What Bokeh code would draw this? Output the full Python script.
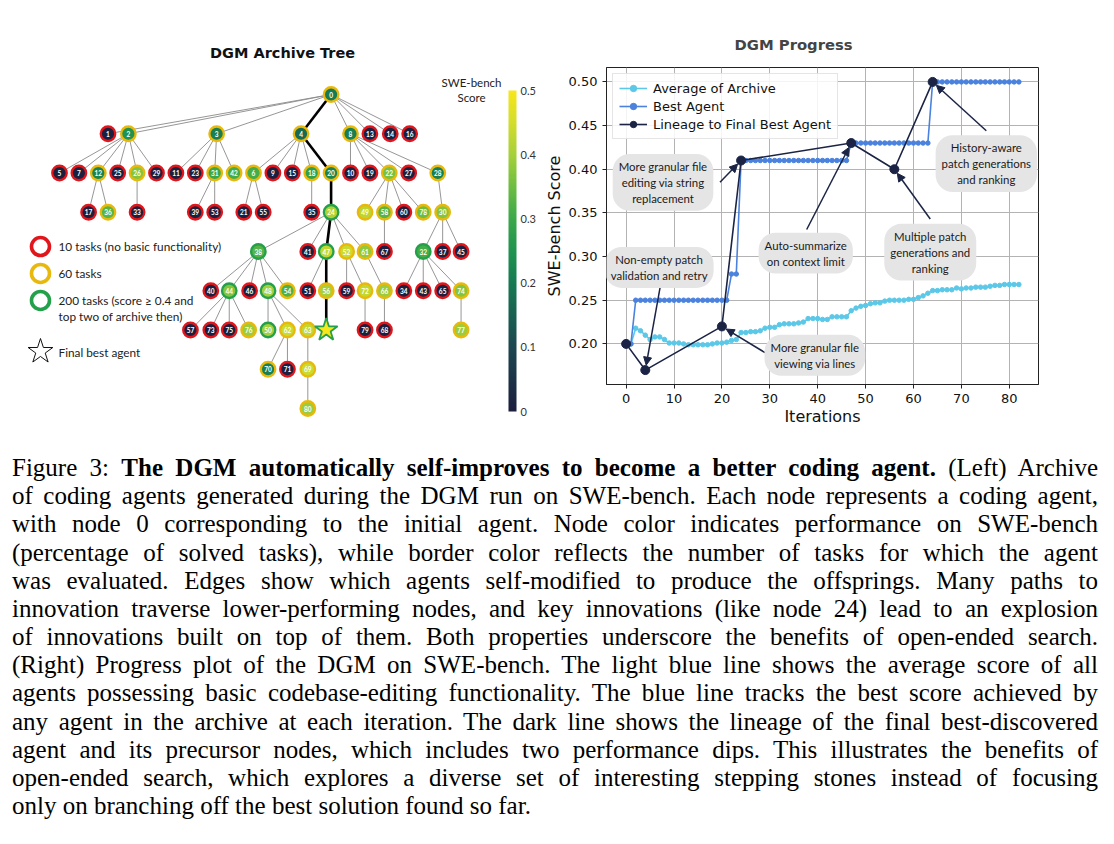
import numpy as np
from bokeh.plotting import figure
from bokeh.models import (Range1d, ColumnDataSource, LinearColorMapper, ColorBar, FixedTicker,
                          Label, Arrow, NormalHead, Legend, LegendItem, Div, PrintfTickFormatter)
from bokeh.layouts import row, column
from bokeh.transform import transform, factor_cmap
from bokeh.core.properties import value
from bokeh.embed import file_html
from bokeh.resources import INLINE

# ---------------- archive tree data ----------------
node_id = list(range(81))
node_parent = [-1, 0, 0, 0, 0, 2, 4, 2, 0, 4,
               8, 3, 2, 0, 0, 4, 0, 12, 4, 8,
               4, 6, 8, 3, 20, 2, 2, 8, 8, 2,
               28, 3, 30, 26, 32, 18, 12, 30, 24, 31,
               38, 24, 3, 32, 38, 30, 38, 24, 38, 22,
               48, 47, 24, 31, 38, 6, 47, 44, 22, 52,
               22, 24, 48, 48, 56, 32, 61, 58, 66, 63,
               62, 62, 52, 44, 32, 44, 44, 74, 22, 72,
               69]
# horizontal slot of every node in the drawn tree
node_slot = [14.0, 2.5, 3.55, 8.1, 12.45, 0.0, 10.0, 1.0, 15.0, 11.0,
             15.0, 6.0, 2.0, 16.0, 17.05, 12.0, 18.05, 1.5, 13.0, 16.0,
             14.0, 9.5, 17.0, 7.0, 14.0, 3.0, 4.0, 18.0, 19.5, 5.0,
             19.75, 8.0, 18.75, 4.0, 17.75, 13.0, 2.5, 19.75, 10.25, 7.0,
             7.8, 12.8, 9.0, 18.75, 8.75, 20.7, 9.8, 13.75, 10.75, 15.75,
             10.75, 12.8, 14.8, 8.0, 11.75, 10.5, 13.75, 6.75, 16.75, 14.8,
             17.75, 15.75, 11.75, 12.8, 13.75, 19.75, 16.75, 16.75, 16.75, 12.8,
             10.75, 11.75, 15.75, 7.8, 20.7, 8.75, 9.75, 20.7, 18.75, 15.75,
             12.8]
node_score = [0.20, 0, 0.25, 0.21, 0.17, 0, 0.31, 0, 0.21, 0,
              0, 0, 0.22, 0, 0, 0, 0, 0, 0.28, 0,
              0.22, 0, 0.36, 0, 0.41, 0, 0.37, 0, 0.21, 0,
              0.37, 0.30, 0.31, 0, 0, 0, 0.33, 0, 0.33, 0,
              0, 0, 0.31, 0, 0.37, 0, 0, 0.43, 0.40, 0.42,
              0.40, 0, 0.44, 0, 0.32, 0, 0.40, 0, 0.33, 0,
              0, 0.38, 0.44, 0.43, 0.50, 0, 0.39, 0, 0, 0.44,
              0.21, 0, 0.43, 0, 0.37, 0, 0.39, 0.39, 0.35, 0,
              0.39]
node_tasks = [60, 10, 60, 60, 60, 10, 60, 10, 60, 10,
              10, 10, 60, 10, 10, 10, 10, 10, 60, 10,
              60, 10, 60, 10, 200, 10, 60, 10, 60, 10,
              60, 60, 200, 10, 10, 10, 60, 10, 200, 10,
              10, 10, 60, 10, 200, 10, 10, 200, 200, 60,
              200, 10, 60, 10, 60, 10, 60, 10, 60, 10,
              10, 60, 60, 60, 200, 10, 60, 10, 10, 60,
              60, 10, 60, 10, 60, 10, 60, 60, 60, 10,
              60]
lineage_nodes = [0, 4, 20, 24, 47, 56, 64]
final_best = 64

task_levels = ["10", "60", "200"]
task_legend = ["10 tasks (no basic functionality)", "60 tasks", "200 tasks (score \u2265 0.4 and"]
task_legend_cont = "top two of archive then)"
cbar_ticks = [0, 0.1, 0.2, 0.3, 0.4, 0.5]

# ---------------- progress data ----------------
iterations = list(range(83))
avg_archive = [0.200, 0.200, 0.218, 0.215, 0.210, 0.205, 0.208, 0.208, 0.205, 0.201,
               0.201, 0.201, 0.200, 0.199, 0.199, 0.199, 0.199, 0.199, 0.200, 0.201,
               0.201, 0.202, 0.204, 0.205, 0.213, 0.213, 0.214, 0.214, 0.215, 0.218,
               0.219, 0.219, 0.222, 0.223, 0.223, 0.223, 0.224, 0.225, 0.229, 0.229,
               0.229, 0.228, 0.228, 0.231, 0.231, 0.231, 0.231, 0.238, 0.241, 0.243,
               0.244, 0.246, 0.247, 0.247, 0.249, 0.250, 0.250, 0.250, 0.250, 0.251,
               0.251, 0.253, 0.255, 0.258, 0.261, 0.261, 0.262, 0.262, 0.262, 0.264,
               0.263, 0.264, 0.264, 0.265, 0.265, 0.265, 0.266, 0.267, 0.267, 0.268,
               0.268, 0.268, 0.268]
best_agent = [0.20, 0.20, 0.25, 0.25, 0.25, 0.25, 0.25, 0.25, 0.25, 0.25,
              0.25, 0.25, 0.25, 0.25, 0.25, 0.25, 0.25, 0.25, 0.25, 0.25,
              0.25, 0.25, 0.28, 0.28, 0.41, 0.41, 0.41, 0.41, 0.41, 0.41,
              0.41, 0.41, 0.41, 0.41, 0.41, 0.41, 0.41, 0.41, 0.41, 0.41,
              0.41, 0.41, 0.41, 0.41, 0.41, 0.41, 0.41, 0.43, 0.43, 0.43,
              0.43, 0.43, 0.43, 0.43, 0.43, 0.43, 0.43, 0.43, 0.43, 0.43,
              0.43, 0.43, 0.43, 0.43, 0.50, 0.50, 0.50, 0.50, 0.50, 0.50,
              0.50, 0.50, 0.50, 0.50, 0.50, 0.50, 0.50, 0.50, 0.50, 0.50,
              0.50, 0.50, 0.50]
lineage_iter = [0, 4, 20, 24, 47, 56, 64]
lineage_score = [0.20, 0.17, 0.22, 0.41, 0.43, 0.40, 0.50]
x_ticks = [0, 10, 20, 30, 40, 50, 60, 70, 80]
y_ticks = [0.20, 0.25, 0.30, 0.35, 0.40, 0.45, 0.50]
annotations = [
    ("Non-empty patch\nvalidation and retry", 4),
    ("More granular file\nediting via string\nreplacement", 24),
    ("Auto-summarize\non context limit", 47),
    ("More granular file\nviewing via lines", 20),
    ("Multiple patch\ngenerations and\nranking", 56),
    ("History-aware\npatch generations\nand ranking", 64),
]

caption_lines = [
    "Figure 3: <b>The DGM automatically self-improves to become a better coding agent.</b> (Left) Archive",
    "of coding agents generated during the DGM run on SWE-bench. Each node represents a coding agent,",
    "with node 0 corresponding to the initial agent. Node color indicates performance on SWE-bench",
    "(percentage of solved tasks), while border color reflects the number of tasks for which the agent",
    "was evaluated. Edges show which agents self-modified to produce the offsprings. Many paths to",
    "innovation traverse lower-performing nodes, and key innovations (like node 24) lead to an explosion",
    "of innovations built on top of them. Both properties underscore the benefits of open-ended search.",
    "(Right) Progress plot of the DGM on SWE-bench. The light blue line shows the average score of all",
    "agents possessing basic codebase-editing functionality. The blue line tracks the best score achieved by",
    "any agent in the archive at each iteration. The dark line shows the lineage of the final best-discovered",
    "agent and its precursor nodes, which includes two performance dips. This illustrates the benefits of",
    "open-ended search, which explores a diverse set of interesting stepping stones instead of focusing",
    "only on branching off the best solution found so far.",
]

# ---------------- styles ----------------
anchors = ["#1c1f3e", "#1c4750", "#167a52", "#1f9350", "#3aa84a", "#6dbd42", "#a6d03a", "#d2dd2c", "#f7e61a"]
anchor_pos = [0.0, 0.2, 0.4, 0.5, 0.6, 0.7, 0.8, 0.9, 1.0]
def hex2rgb(h):
    return [int(h[i:i + 2], 16) for i in (1, 3, 5)]
rgb = np.array([hex2rgb(c) for c in anchors], dtype=float)
tt = np.linspace(0, 1, 256)
palette = ["#%02x%02x%02x" % tuple(int(round(np.interp(t, anchor_pos, rgb[:, k]))) for k in range(3)) for t in tt]
cmap = LinearColorMapper(palette=palette, low=0, high=0.5)
border_colors = ["#e0161c", "#e8b90c", "#24a04a"]
SANS = "Lato"
MPL = "DejaVu Sans"

# ---------------- left: tree ----------------
depth = []
for i in node_id:
    d, k = 0, i
    while node_parent[k] >= 0:
        k = node_parent[k]
        d += 1
    depth.append(d)

p1 = figure(width=538, height=452, x_range=Range1d(-3.041, 24.691), y_range=Range1d(9.121, -2.395),
            output_backend="svg", toolbar_location=None, min_border=0, frame_align=False,
            x_axis_location=None, y_axis_location=None, outline_line_color=None)
p1.grid.visible = False

lineage_edges = set(zip(lineage_nodes[:-1], lineage_nodes[1:]))
ex0, ey0, ex1, ey1, lx0, ly0, lx1, ly1 = [], [], [], [], [], [], [], []
for i in node_id:
    par = node_parent[i]
    if par < 0:
        continue
    if (par, i) in lineage_edges:
        lx0.append(node_slot[par]); ly0.append(depth[par]); lx1.append(node_slot[i]); ly1.append(depth[i])
    else:
        ex0.append(node_slot[par]); ey0.append(depth[par]); ex1.append(node_slot[i]); ey1.append(depth[i])
p1.segment(ex0, ey0, ex1, ey1, line_color="#8a8a8a", line_width=0.9)
p1.segment(lx0, ly0, lx1, ly1, line_color="#000000", line_width=2.6)

keep = [i for i in node_id if i != final_best]
nsrc = ColumnDataSource(dict(x=[node_slot[i] for i in keep], y=[depth[i] for i in keep],
                             score=[node_score[i] for i in keep],
                             tasks=[str(node_tasks[i]) for i in keep],
                             label=[str(i) for i in keep]))
p1.scatter("x", "y", source=nsrc, size=14.5, marker="circle",
           fill_color=transform("score", cmap),
           line_color=factor_cmap("tasks", border_colors, task_levels), line_width=2.3)
p1.text("x", "y", text="label", source=nsrc, text_color="white", text_font=value(SANS),
        text_font_size="6.5px", text_font_style="bold", text_align="center", text_baseline="middle")
ssrc = ColumnDataSource(dict(x=[node_slot[final_best]], y=[depth[final_best]],
                             score=[node_score[final_best]], tasks=[str(node_tasks[final_best])]))
p1.scatter("x", "y", source=ssrc, marker="star", size=24, fill_color=transform("score", cmap),
           line_color=factor_cmap("tasks", border_colors, task_levels), line_width=1.8)

# legend of border colours
leg_y = [3.873, 4.56, 5.248]
p1.scatter([-0.98] * 3, leg_y, marker="circle", size=18, fill_color="white",
           line_color=border_colors, line_width=3.6)
p1.text([-0.05] * 3, leg_y, text=task_legend,
        text_font=value(SANS), text_font_size="11.8px", text_color="#222222", text_baseline="middle")
p1.text([-0.05], [5.656], text=[task_legend_cont], text_font=value(SANS),
        text_font_size="11.8px", text_color="#222222", text_baseline="middle")
p1.scatter([-0.98], [6.548], marker="star", size=26, fill_color="white", line_color="#111111", line_width=1.0)
p1.text([-0.05], [6.573], text=["Final best agent"], text_font=value(SANS),
        text_font_size="11.8px", text_color="#222222", text_baseline="middle")

p1.text([11.5], [-1.07], text=["DGM Archive Tree"], text_font=value(MPL), text_font_size="14.5px",
        text_font_style="bold", text_align="center", text_baseline="middle", text_color="#111111")
p1.text([21.24, 21.24], [-0.31, 0.08], text=["SWE-bench", "Score"], text_font=value(SANS),
        text_font_size="11.5px", text_align="center", text_baseline="middle", text_color="#222222")

cb = ColorBar(color_mapper=cmap, ticker=FixedTicker(ticks=cbar_ticks),
              major_label_overrides={0: "0", 0.1: "0.1", 0.2: "0.2", 0.3: "0.3", 0.4: "0.4", 0.5: "0.5"},
              width=8, height=321, location=(508, 41), padding=0, margin=0,
              major_tick_line_color=None, bar_line_color=None, border_line_color=None,
              background_fill_color=None, label_standoff=4,
              major_label_text_font=SANS, major_label_text_font_size="11px",
              major_label_text_color="#333333")
p1.add_layout(cb, "center")

# ---------------- right: progress ----------------
p2 = figure(width=576, height=452, x_range=Range1d(-4.1, 86.1), y_range=Range1d(0.1535, 0.5165),
            output_backend="svg", toolbar_location=None, frame_align=False,
            min_border_left=68, min_border_right=76, min_border_top=67, min_border_bottom=68)
p2.title.text = "DGM Progress"
p2.title.align = "left"
p2.title.offset = 128
p2.title.text_font = MPL
p2.title.text_font_size = "14.8px"
p2.title.text_font_style = "bold"
p2.title.standoff = 29
p2.outline_line_color = "#222222"
p2.outline_line_width = 1
for ax in (p2.xaxis, p2.yaxis):
    ax.axis_line_color = "#222222"
    ax.major_tick_in = 0
    ax.major_tick_out = 4
    ax.major_tick_line_color = "#222222"
    ax.minor_tick_line_color = None
    ax.major_label_text_font = MPL
    ax.major_label_text_font_size = "13px"
    ax.major_label_text_color = "#111111"
    ax.axis_label_text_font = MPL
    ax.axis_label_text_font_size = "16px"
    ax.axis_label_text_font_style = "normal"
    ax.axis_label_text_color = "#111111"
p2.xaxis.ticker = FixedTicker(ticks=x_ticks)
p2.yaxis.ticker = FixedTicker(ticks=y_ticks)
p2.yaxis.formatter = PrintfTickFormatter(format="%.2f")
p2.xaxis.axis_label = "Iterations"
p2.yaxis.axis_label = "SWE-bench Score"
p2.xaxis.axis_label_standoff = 1
p2.yaxis.axis_label_standoff = 2
p2.grid.grid_line_color = "#b3b3b3"
p2.grid.grid_line_width = 1

C_AVG, C_BEST, C_LIN = "#5cc8e8", "#4a82de", "#1b2445"
r1 = p2.line(iterations, avg_archive, line_color=C_AVG, line_width=1.6)
r1p = p2.scatter(iterations, avg_archive, size=4.5, fill_color=C_AVG, line_color=C_AVG)
r2 = p2.line(iterations, best_agent, line_color=C_BEST, line_width=1.6)
r2p = p2.scatter(iterations, best_agent, size=4.5, fill_color=C_BEST, line_color=C_BEST)
r3 = p2.line(lineage_iter, lineage_score, line_color=C_LIN, line_width=1.6)
r3p = p2.scatter(lineage_iter, lineage_score, size=9, fill_color=C_LIN, line_color=C_LIN)

legend = Legend(items=[LegendItem(label="Average of Archive", renderers=[r1, r1p]),
                       LegendItem(label="Best Agent", renderers=[r2, r2p]),
                       LegendItem(label="Lineage to Final Best Agent", renderers=[r3, r3p])],
                location="top_left", margin=6, padding=6, spacing=2, label_height=16,
                glyph_height=16, glyph_width=28, label_standoff=6,
                label_text_font=MPL, label_text_font_size="13px", label_text_color="#111111",
                border_line_color="#cccccc", background_fill_alpha=0.85)
p2.add_layout(legend)

# bubble annotations: (label centre, arrow start) in data units
bubble_pos = [(6.9, 0.2875), (7.7, 0.385), (37.5, 0.304), (39.4, 0.187), (63.5, 0.305), (75.2, 0.4065)]
arrow_from = [(7.1, 0.265), (19.6, 0.385), (37.7, 0.331), (29.0, 0.190), (63.5, 0.343), (75.2, 0.444)]
lin_lookup = dict(zip(lineage_iter, lineage_score))
for (txt, it), (bx, by), (ax0, ay0) in zip(annotations, bubble_pos, arrow_from):
    tx, ty = it, lin_lookup[it]
    dx, dy = (tx - ax0) / 90.2 * 432, (ty - ay0) / 0.363 * 317
    nrm = (dx * dx + dy * dy) ** 0.5
    ex = tx - (dx / nrm) * 5 * 90.2 / 432
    ey = ty - (dy / nrm) * 5 * 0.363 / 317
    p2.add_layout(Arrow(end=NormalHead(size=8, fill_color=C_LIN, line_color=C_LIN),
                        x_start=ax0, y_start=ay0, x_end=ex, y_end=ey,
                        line_color=C_LIN, line_width=1.5))
    p2.add_layout(Label(x=bx, y=by, text=txt, text_align="center", text_baseline="middle",
                        text_font=SANS, text_font_size="11.4px", text_color="#1a1a1a",
                        text_line_height=1.22,
                        background_fill_color="#e5e5e5", background_fill_alpha=1.0,
                        border_radius=17, padding=6))

# ---------------- caption ----------------
html_lines = []
for k, ln in enumerate(caption_lines):
    last = k == len(caption_lines) - 1
    html_lines.append('<div style="white-space:nowrap;text-align:%s;text-align-last:%s;">%s</div>'
                      % ("left" if last else "justify", "left" if last else "justify", ln))
caption = Div(text='<div style="font-family:\'Liberation Serif\',serif;font-size:25px;line-height:28.17px;'
                   'color:#000;width:1086px;margin-left:12px;padding-top:2px;">' + "".join(html_lines) + "</div>",
              width=1114, margin=(0, 0, 0, 0))

layout = column(row(p1, p2), caption)
open("out.html", "w").write(file_html(layout, INLINE))
